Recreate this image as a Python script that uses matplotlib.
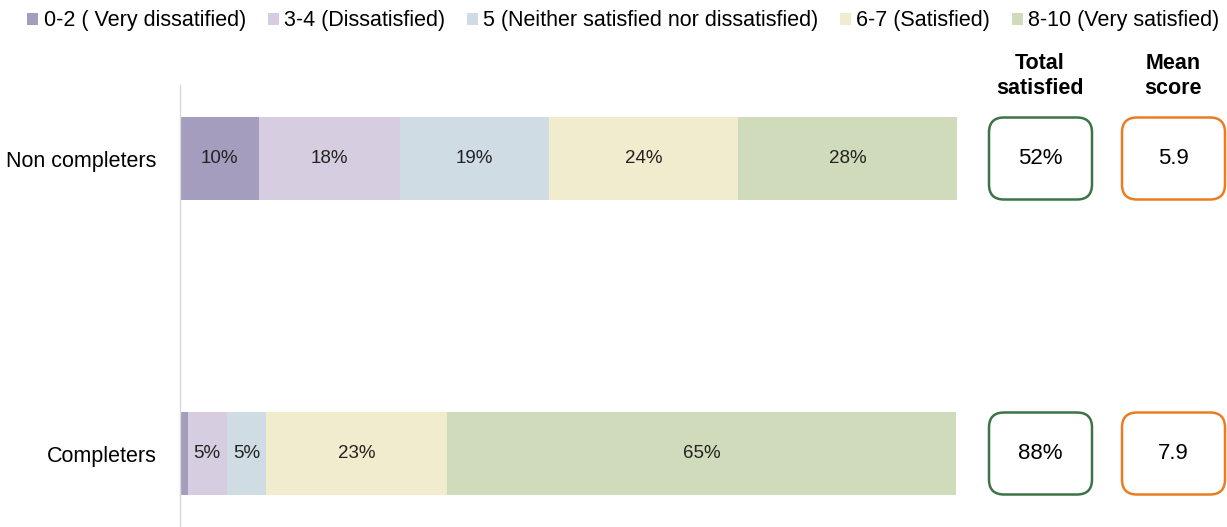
import numpy as np
import matplotlib.pyplot as plt
import matplotlib as mpl
from matplotlib.patches import FancyBboxPatch

mpl.rcParams['font.family'] = ['Liberation Sans', 'DejaVu Sans']
mpl.rcParams['font.size'] = 13

# Data
groups = ['Non completers', 'Completers']
categories = ['0-2 ( Very dissatified)', '3-4 (Dissatisfied)',
              '5 (Neither satisfied nor dissatisfied)', '6-7 (Satisfied)',
              '8-10 (Very satisfied)']
non_completers = [10.2, 18.1, 19.2, 24.3, 28.2]
completers = [1.0, 5.0, 5.1, 23.2, 65.6]
seg_labels = [['10%', '18%', '19%', '24%', '28%'],
              ['', '5%', '5%', '23%', '65%']]
total_satisfied = ['52%', '88%']
mean_score = ['5.9', '7.9']

colors = ['#a59dbd', '#d6cee0', '#cfdce4', '#f2ecce', '#cfdbba']
green_edge = '#3c7448'
orange_edge = '#ea7d22'

fig = plt.figure(figsize=(12.27, 5.27), dpi=100)
W, H = 1227, 527
x0_px, x100_px = 180, 957
top_px = 85
ax = fig.add_axes([x0_px / W, 0, (W - x0_px) / W, (H - top_px) / H])

xmax = 100 * (W - x0_px) / (x100_px - x0_px)
ax.set_xlim(0, xmax)
ypos = np.arange(len(groups))
sep = 295.0  # px between bar centres
ytop = -(158.5 - top_px) / sep
ybot = 1 + (H - 453.5) / sep
ax.set_ylim(ybot, ytop)
bar_h = 83 / sep

data = [non_completers, completers]
for i, vals in enumerate(data):
    left = 0
    for j, v in enumerate(vals):
        ax.barh(ypos[i], v, left=left, height=bar_h, color=colors[j],
                label=categories[j] if i == 0 else None)
        if seg_labels[i][j]:
            ax.text(left + v / 2, ypos[i], seg_labels[i][j], ha='center',
                    va='center', fontsize=13.5, color='#222222')
        left += v

# rounded boxes for total satisfied and mean score
px_x = xmax / (W - x0_px)
px_y = (ybot - ytop) / (H - top_px)
box_w = 103 * px_x
box_h = 82 * px_y
aspect = px_y / px_x
for cx, vals, edge in [((1040.5 - x0_px) * px_x, total_satisfied, green_edge),
                       ((1173.5 - x0_px) * px_x, mean_score, orange_edge)]:
    for i, txt in enumerate(vals):
        box = FancyBboxPatch((cx - box_w / 2, ypos[i] - box_h / 2), box_w, box_h,
                             boxstyle='round,pad=0,rounding_size=%f' % (15 * px_x),
                             mutation_aspect=aspect, facecolor='white',
                             edgecolor=edge, linewidth=1.8, clip_on=False)
        ax.add_patch(box)
        ax.text(cx, ypos[i], txt, ha='center', va='center', fontsize=16)

head_y = ytop + (76 - top_px) * px_y
ax.text((1040 - x0_px) * px_x, head_y, 'Total\nsatisfied',
        ha='center', va='center', fontsize=15.5, fontweight='bold',
        linespacing=1.3, clip_on=False)
ax.text((1173 - x0_px) * px_x, head_y, 'Mean\nscore',
        ha='center', va='center', fontsize=15.5, fontweight='bold',
        linespacing=1.3, clip_on=False)

ax.set_yticks(ypos)
ax.set_yticklabels(groups, fontsize=15.5)
ax.tick_params(axis='y', length=0, pad=17)
ax.set_xticks([])
for s in ['top', 'right', 'bottom']:
    ax.spines[s].set_visible(False)
ax.spines['left'].set_color('#d9d9d9')
ax.spines['left'].set_linewidth(1)

fig.legend(loc='upper left', bbox_to_anchor=(22 / W, 1 - 5 / H), ncol=5, frameon=False,
           handlelength=0.5, handleheight=0.5, handletextpad=0.25,
           columnspacing=1.02, fontsize=15.5, borderaxespad=0.25, borderpad=0)

plt.savefig('out.png', dpi=100)
